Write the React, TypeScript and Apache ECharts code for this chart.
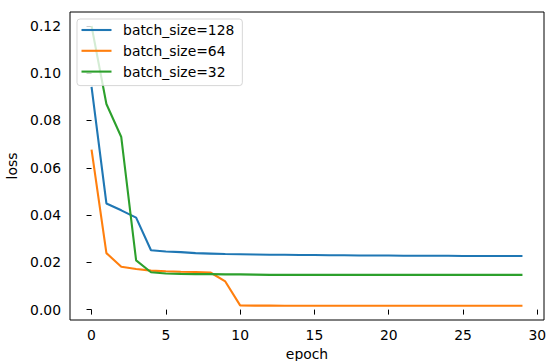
import React, { useEffect, useRef } from "react";
import * as echarts from "echarts";

const epochs: number[] = Array.from({ length: 30 }, (_, i) => i);
const loss128: number[] = [
  0.0942, 0.0449, 0.042, 0.0389, 0.0251, 0.0246, 0.0243, 0.0239, 0.0237, 0.0235,
  0.0234, 0.0233, 0.0232, 0.0232, 0.0231, 0.0231, 0.023, 0.023, 0.0229, 0.0229,
  0.0229, 0.0228, 0.0228, 0.0228, 0.0228, 0.0227, 0.0227, 0.0227, 0.0227, 0.0227,
];
const loss64: number[] = [
  0.0677, 0.0239, 0.0181, 0.0172, 0.0165, 0.0162, 0.016, 0.0159, 0.0157, 0.0119,
  0.0018, 0.0017, 0.0017, 0.0016, 0.0016, 0.0016, 0.0016, 0.0016, 0.0016, 0.0016,
  0.0016, 0.0016, 0.0016, 0.0016, 0.0016, 0.0016, 0.0016, 0.0016, 0.0016, 0.0016,
];
const loss32: number[] = [
  0.12, 0.087, 0.073, 0.0208, 0.0158, 0.0153, 0.0151, 0.015, 0.015, 0.0149,
  0.0149, 0.0148, 0.0147, 0.0147, 0.0147, 0.0147, 0.0147, 0.0147, 0.0147, 0.0147,
  0.0147, 0.0147, 0.0147, 0.0147, 0.0147, 0.0147, 0.0147, 0.0147, 0.0147, 0.0147,
];
const seriesNames: string[] = ["batch_size=128", "batch_size=64", "batch_size=32"];
const colors: string[] = ["#1f77b4", "#ff7f0e", "#2ca02c"];
const xTicks: number[] = [0, 5, 10, 15, 20, 25, 30];
const yTicks: number[] = [0, 0.02, 0.04, 0.06, 0.08, 0.1, 0.12];

const FONT = "DejaVu Sans";
const FS = 13.9;
const LINE_ICON = "path://M0,0L30,0L30,2.1L0,2.1Z";

export default function App() {
  const ref = useRef<HTMLDivElement>(null);
  useEffect(() => {
    if (!ref.current) return;
    const chart = echarts.init(ref.current, undefined, { renderer: "svg" });
    const allSeries = [loss128, loss64, loss32];
    chart.setOption({
      animation: false,
      backgroundColor: "#ffffff",
      textStyle: { fontFamily: FONT },
      grid: {
        left: 70,
        right: 3,
        top: 12,
        bottom: 41,
        containLabel: false,
        outerBoundsMode: "none",
        show: true,
        borderColor: "#000",
        borderWidth: 1,
        backgroundColor: "transparent",
      },
      legend: {
        orient: "vertical",
        left: 77,
        top: 19,
        itemWidth: 30,
        itemHeight: 14,
        itemGap: 6.8,
        padding: [4, 8, 7, 4.5],
        backgroundColor: "rgba(255,255,255,0.8)",
        borderColor: "rgba(204,204,204,0.8)",
        borderWidth: 1,
        borderRadius: 3,
        icon: LINE_ICON,
        textStyle: {
          fontFamily: FONT,
          fontSize: FS,
          color: "#000",
          padding: [0, 0, 0, 6.6],
        },
        data: seriesNames.map((n, i) => ({
          name: n,
          icon: LINE_ICON,
          itemStyle: { color: colors[i] },
        })),
      },
      xAxis: {
        type: "value",
        min: -1.45,
        max: 30.45,
        name: "epoch",
        nameLocation: "middle",
        nameGap: 26,
        nameTextStyle: { fontFamily: FONT, fontSize: FS, color: "#000" },
        axisLine: { show: false },
        splitLine: { show: false },
        axisTick: {
          show: true,
          inside: false,
          length: 5,
          lineStyle: { color: "#000", width: 1 },
          customValues: xTicks,
        },
        axisLabel: {
          show: true,
          margin: 8,
          fontFamily: FONT,
          fontSize: FS,
          color: "#000",
          customValues: xTicks,
          formatter: (v: number) => String(Math.round(v)),
        },
      },
      yAxis: {
        type: "value",
        min: -0.0044,
        max: 0.1259,
        name: "loss",
        nameLocation: "middle",
        nameGap: 49,
        nameTextStyle: { fontFamily: FONT, fontSize: FS, color: "#000" },
        axisLine: { show: false },
        splitLine: { show: false },
        axisTick: {
          show: true,
          inside: false,
          length: 5,
          lineStyle: { color: "#000", width: 1 },
          customValues: yTicks,
        },
        axisLabel: {
          show: true,
          margin: 9,
          fontFamily: FONT,
          fontSize: FS,
          color: "#000",
          customValues: yTicks,
          formatter: (v: number) => v.toFixed(2),
        },
      },
      series: allSeries.map((vals, i) => ({
        name: seriesNames[i],
        type: "line",
        symbol: "none",
        showSymbol: false,
        data: epochs.map((e, j) => [e, vals[j]]),
        lineStyle: { color: colors[i], width: 2.1 },
        itemStyle: { color: colors[i] },
        z: 2,
      })),
    });
    return () => chart.dispose();
  }, []);
  return (
    <div
      ref={ref}
      style={{ position: "fixed", left: 0, top: 0, width: 547, height: 361 }}
    />
  );
}
